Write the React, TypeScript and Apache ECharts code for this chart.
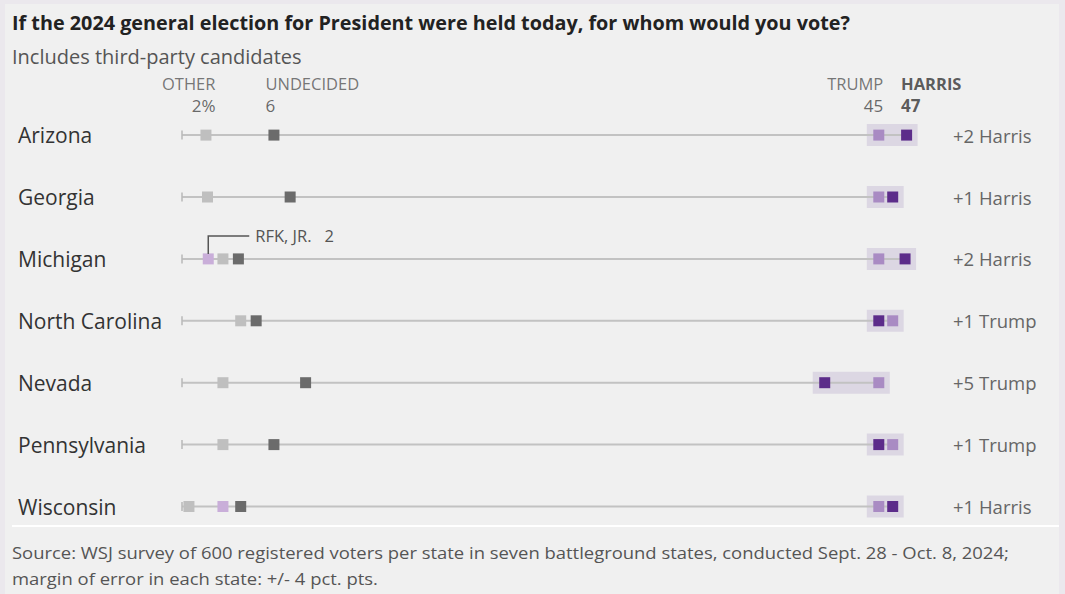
import React, { useEffect, useRef } from "react";
import * as echarts from "echarts";

const states = ["Arizona", "Georgia", "Michigan", "North Carolina", "Nevada", "Pennsylvania", "Wisconsin"];
const other = [1.55, 1.65, 2.65, 3.8, 2.65, 2.65, 0.45];
const rfk: (number | null)[] = [null, null, 1.7, null, null, null, 2.65];
const undecided = [5.95, 7.0, 3.65, 4.8, 8.0, 5.95, 3.8];
const trump = [45.1, 45.1, 45.1, 46.0, 45.1, 46.0, 45.1];
const harris = [46.9, 46.0, 46.8, 45.1, 41.6, 45.1, 46.0];
const margins = ["+2 Harris", "+1 Harris", "+2 Harris", "+1 Trump", "+5 Trump", "+1 Trump", "+1 Harris"];
const headerNames = ["OTHER", "UNDECIDED", "TRUMP", "HARRIS"];
const headerValues = ["2%", "6", "45", "47"];
const rfkNote = ["RFK, JR.", "2"];

const TITLE = "If the 2024 general election for President were held today, for whom would you vote?";
const SUBTITLE = "Includes third-party candidates";
const SOURCE1 = "Source: WSJ survey of 600 registered voters per state in seven battleground states, conducted Sept. 28 - Oct. 8, 2024;";
const SOURCE2 = "margin of error in each state: +/- 4 pct. pts.";

const FONT = "'Open Sans', sans-serif";
const C = {
  harris: "#5c2c8a",
  trump: "#a98bc3",
  rfk: "#c9aed9",
  other: "#bfbfbf",
  undecided: "#6b6b6b",
  line: "#c2c2c2",
  band: "#dcd7e3",
};

export default function App() {
  const ref = useRef<HTMLDivElement>(null);
  useEffect(() => {
    if (!ref.current) return;
    const chart = echarts.init(ref.current, null, { renderer: "svg" });

    const sq = (name: string, vals: (number | null)[], color: string) => ({
      name,
      type: "scatter",
      symbol: "rect",
      symbolSize: 11,
      z: 5,
      silent: true,
      itemStyle: { color, opacity: 1 },
      data: vals.map((v, i) => (v == null ? null : [v, i])).filter((d) => d != null),
    });

    const headerAnchors = [other[0], undecided[0], trump[0], harris[0]];
    const headerCfg = [
      { dx: 10, align: "right", bold: false },
      { dx: -8, align: "left", bold: false },
      { dx: 5, align: "right", bold: false },
      { dx: -5, align: "left", bold: true },
    ];

    const headerSeries = (line: number) => ({
      type: "scatter",
      silent: true,
      symbolSize: 1,
      itemStyle: { color: "transparent" },
      z: 7,
      data: headerAnchors.map((v, k) => ({
        value: [v, 0],
        label: {
          show: true,
          position: [headerCfg[k].dx, line === 0 ? -51.5 : -29.5],
          align: headerCfg[k].align,
          verticalAlign: "middle",
          formatter: line === 0 ? headerNames[k] : headerValues[k],
          fontSize: line === 0 ? 16.5 : 17,
          lineHeight: 17,
          color: headerCfg[k].bold ? "#333" : line === 0 ? "#555" : "#444",
          fontWeight: headerCfg[k].bold ? "bold" : "normal",
          fontFamily: FONT,
        },
      })),
    });

    const option: any = {
      animation: false,
      backgroundColor: "#ebe8ed",
      textStyle: { fontFamily: FONT },
      grid: { left: 182, right: 110.5, top: 104.15, bottom: 56.55 },
      xAxis: { type: "value", min: 0, max: 50, show: false },
      yAxis: [
        {
          type: "category",
          inverse: true,
          data: states,
          axisLine: { show: false },
          axisTick: { show: false },
          splitLine: { show: false },
          axisLabel: { align: "left", margin: 164, fontSize: 21, color: "#333", fontFamily: FONT },
        },
        {
          type: "category",
          inverse: true,
          position: "right",
          data: margins,
          axisLine: { show: false },
          axisTick: { show: false },
          splitLine: { show: false },
          axisLabel: { align: "left", margin: -1.5, fontSize: 18.5, color: "#666", fontFamily: FONT },
        },
      ],
      graphic: [
        { type: "rect", shape: { x: 5, y: 4, width: 1054, height: 590 }, style: { fill: "#f0f0f0" }, z: -10, silent: true },
        { type: "rect", shape: { x: 12, y: 525, width: 1047, height: 2 }, style: { fill: "#ffffff" }, silent: true },
        { type: "text", x: 12, y: 22, style: { text: TITLE, font: `bold 19.8px ${FONT}`, fill: "#222", verticalAlign: "middle" } },
        { type: "text", x: 12, y: 56, style: { text: SUBTITLE, font: `20px ${FONT}`, fill: "#555", verticalAlign: "middle" } },
        { type: "text", x: 12, y: 552, scaleX: 1.085, style: { text: SOURCE1, font: `17px ${FONT}`, fill: "#555", verticalAlign: "middle" } },
        { type: "text", x: 12, y: 578, scaleX: 1.085, style: { text: SOURCE2, font: `17px ${FONT}`, fill: "#555", verticalAlign: "middle" } },
      ],
      series: [
        {
          type: "custom",
          silent: true,
          z: 1,
          encode: { x: [0, 1], y: 2 },
          data: states.map((_, i) => [Math.min(trump[i], harris[i]), Math.max(trump[i], harris[i]), i]),
          renderItem: (params: any, api: any) => {
            const lo = api.coord([api.value(0), api.value(2)]);
            const hi = api.coord([api.value(1), api.value(2)]);
            const zero = api.coord([0, api.value(2)]);
            const cy = lo[1];
            return {
              type: "group",
              children: [
                { type: "rect", shape: { x: lo[0] - 12, y: cy - 11, width: hi[0] - lo[0] + 23, height: 22 }, style: { fill: C.band } },
                { type: "line", shape: { x1: zero[0], y1: cy, x2: hi[0], y2: cy }, style: { stroke: C.line, lineWidth: 2 } },
                { type: "line", shape: { x1: zero[0], y1: cy - 4.5, x2: zero[0], y2: cy + 4.5 }, style: { stroke: "#b8b8b8", lineWidth: 1.5 } },
              ],
            };
          },
        },
        {
          type: "custom",
          silent: true,
          z: 6,
          encode: { x: 0, y: 1 },
          data: [[rfk[2], 2]],
          renderItem: (params: any, api: any) => {
            const p = api.coord([api.value(0), api.value(1)]);
            const top = p[1] - 23;
            return {
              type: "polyline",
              shape: { points: [[p[0], p[1] - 5], [p[0], top], [p[0] + 41, top]] },
              style: { stroke: "#555", lineWidth: 1.5, fill: null },
            };
          },
        },
        sq("Other", other, C.other),
        {
          ...sq("RFK", rfk, C.rfk),
          data: rfk
            .map((v, i) =>
              v == null
                ? null
                : i === 2
                ? {
                    value: [v, i],
                    label: {
                      show: true,
                      position: [52.5, -17.5],
                      align: "left",
                      verticalAlign: "middle",
                      formatter: rfkNote[0] + "   " + rfkNote[1],
                      fontSize: 16.5,
                      color: "#555",
                      fontFamily: FONT,
                    },
                  }
                : [v, i]
            )
            .filter((d) => d != null),
        },
        sq("Undecided", undecided, C.undecided),
        sq("Trump", trump, C.trump),
        sq("Harris", harris, C.harris),
        headerSeries(0),
        headerSeries(1),
      ],
    };
    chart.setOption(option);
    return () => chart.dispose();
  }, []);
  return <div ref={ref} style={{ position: "fixed", left: 0, top: 0, width: 1065, height: 594 }} />;
}
